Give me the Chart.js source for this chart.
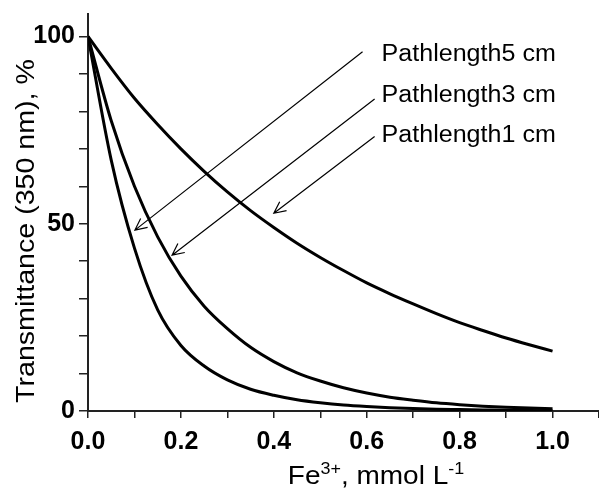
<!DOCTYPE html>
<html>
<head>
<meta charset="utf-8">
<script src="https://cdn.jsdelivr.net/npm/chart.js@4.4.1/dist/chart.umd.min.js"></script>
<style>
  html, body { margin: 0; padding: 0; background: #fff; }
  #wrap { width: 599px; height: 492px; }
</style>
</head>
<body>
<div id="wrap"><canvas id="chart" width="599" height="492"></canvas></div>
<script>
// Fe3+ concentration, mmol/L
const conc = [0, 0.05, 0.1, 0.15, 0.2, 0.25, 0.3, 0.35, 0.4, 0.45, 0.5,
              0.55, 0.6, 0.65, 0.7, 0.75, 0.8, 0.85, 0.9, 0.95, 1.0];

// transmittance at 350 nm, %
const path1 = [100, 91.5, 83.5, 76.5, 70, 64, 58.5, 53.5, 49, 44.8, 41,
               37.5, 34.2, 31.3, 28.6, 26, 23.6, 21.5, 19.5, 17.7, 16];
const path3 = [100, 77.5, 60, 46.5, 36, 28, 22, 17, 13.2, 10.2, 8,
               6.2, 4.8, 3.7, 2.9, 2.2, 1.7, 1.3, 1.0, 0.8, 0.6];
const path5 = [100, 67, 43.5, 27, 17.5, 12, 8.3, 5.8, 4.2, 3.0, 2.2,
               1.6, 1.2, 0.9, 0.7, 0.5, 0.4, 0.3, 0.2, 0.15, 0.1];

const xTickLabels = ['0.0', '0.2', '0.4', '0.6', '0.8', '1.0'];
const yTickLabels = ['0', '50', '100'];

const seriesNames = ['Pathlength1 cm', 'Pathlength3 cm', 'Pathlength5 cm'];

// arrow callouts, in data coordinates
const callouts = [
  { text: 'Pathlength5 cm', tx: 0.632, ty: 95.1, from: [0.591, 95.9], to: [0.101, 48.3] },
  { text: 'Pathlength3 cm', tx: 0.632, ty: 84.2, from: [0.617, 83.3], to: [0.181, 41.6] },
  { text: 'Pathlength1 cm', tx: 0.632, ty: 73.4, from: [0.617, 73.3], to: [0.400, 52.8] }
];

const FONT = "'Liberation Sans', Arial, sans-serif";
const STRETCH = 1.09; // the original lettering is a bit wide

function toPoints(ys) {
  return conc.map((c, i) => ({ x: c, y: ys[i] }));
}

function fmtX(v) {
  const s = v.toFixed(1);
  return xTickLabels.includes(s) && Math.abs(v * 10 - Math.round(v * 10)) < 1e-6 ? s : '';
}

function wideText(ctx, text, x, y, k) {
  ctx.save();
  ctx.translate(x, y);
  ctx.scale(k || STRETCH, 1);
  ctx.fillText(text, 0, 0);
  ctx.restore();
}

// draws the arrows, their labels and the axis titles
const decorPlugin = {
  id: 'decor',
  afterDraw(chart) {
    const ctx = chart.ctx;
    const xs = chart.scales.x, ys = chart.scales.y;
    ctx.save();

    // callouts
    ctx.strokeStyle = '#000';
    ctx.lineWidth = 1.2;
    ctx.fillStyle = '#000';
    ctx.font = '23px ' + FONT;
    ctx.textBaseline = 'middle';
    ctx.textAlign = 'left';
    callouts.forEach(c => {
      const x1 = xs.getPixelForValue(c.from[0]), y1 = ys.getPixelForValue(c.from[1]);
      const x2 = xs.getPixelForValue(c.to[0]), y2 = ys.getPixelForValue(c.to[1]);
      ctx.beginPath();
      ctx.moveTo(x1, y1);
      ctx.lineTo(x2, y2);
      const ang = Math.atan2(y2 - y1, x2 - x1);
      const len = 13, spread = 0.45;
      ctx.moveTo(x2 - len * Math.cos(ang - spread), y2 - len * Math.sin(ang - spread));
      ctx.lineTo(x2, y2);
      ctx.lineTo(x2 - len * Math.cos(ang + spread), y2 - len * Math.sin(ang + spread));
      ctx.stroke();
      wideText(ctx, c.text, xs.getPixelForValue(c.tx), ys.getPixelForValue(c.ty));
    });

    // y title
    ctx.save();
    ctx.translate(27, 231);
    ctx.rotate(-Math.PI / 2);
    ctx.scale(1.1, 1);
    ctx.font = '26px ' + FONT;
    ctx.textAlign = 'center';
    ctx.textBaseline = 'middle';
    ctx.fillText('Transmittance (350 nm), %', 0, 0);
    ctx.restore();

    // x title with superscripts
    const parts = [
      { t: 'Fe', sup: false }, { t: '3+', sup: true },
      { t: ', mmol L', sup: false }, { t: '-1', sup: true }
    ];
    const big = '25px ' + FONT, small = '16px ' + FONT;
    const k = 1.12;
    let total = 0;
    parts.forEach(p => { ctx.font = p.sup ? small : big; total += ctx.measureText(p.t).width * k; });
    let x = 376 - total / 2;
    const base = 484;
    ctx.textAlign = 'left';
    ctx.textBaseline = 'alphabetic';
    parts.forEach(p => {
      ctx.font = p.sup ? small : big;
      wideText(ctx, p.t, x, p.sup ? base - 10 : base, k);
      x += ctx.measureText(p.t).width * k;
    });

    ctx.restore();
  }
};

const ctx = document.getElementById('chart').getContext('2d');
const chart = new Chart(ctx, {
  type: 'line',
  data: {
    datasets: [path1, path3, path5].map((ys, i) => ({
      label: seriesNames[i],
      data: toPoints(ys),
      borderColor: '#000',
      borderWidth: 3,
      pointRadius: 0,
      fill: false,
      cubicInterpolationMode: 'monotone'
    }))
  },
  options: {
    responsive: false,
    animation: false,
    layout: { padding: { top: 14, right: -3, left: 0, bottom: 0 } },
    plugins: {
      legend: { display: false },
      tooltip: { enabled: false }
    },
    scales: {
      x: {
        type: 'linear',
        min: 0,
        max: 1.1,
        border: { color: '#222', width: 2 },
        grid: { drawOnChartArea: false, drawTicks: true, tickLength: 7, color: '#222', lineWidth: 1.5 },
        ticks: {
          stepSize: 0.1,
          includeBounds: false,
          autoSkip: false,
          maxRotation: 0,
          color: '#000',
          padding: 9,
          font: { family: FONT, size: 25, weight: 'bold' },
          callback: v => fmtX(v)
        },
        afterFit: s => { s.height = 81; s.paddingLeft = 0; s.paddingRight = 0; }
      },
      y: {
        type: 'linear',
        min: 0,
        max: 106,
        border: { color: '#222', width: 2 },
        grid: { drawOnChartArea: false, drawTicks: true, tickLength: 9, color: '#222', lineWidth: 1.5 },
        ticks: {
          stepSize: 10,
          includeBounds: false,
          autoSkip: false,
          color: '#000',
          padding: 4,
          font: { family: FONT, size: 25, weight: 'bold' },
          callback: v => yTickLabels.includes(String(v)) ? String(v) : ''
        },
        afterFit: s => { s.width = 88; s.paddingTop = 0; s.paddingBottom = 0; }
      }
    }
  },
  plugins: [decorPlugin]
});
</script>
</body>
</html>
